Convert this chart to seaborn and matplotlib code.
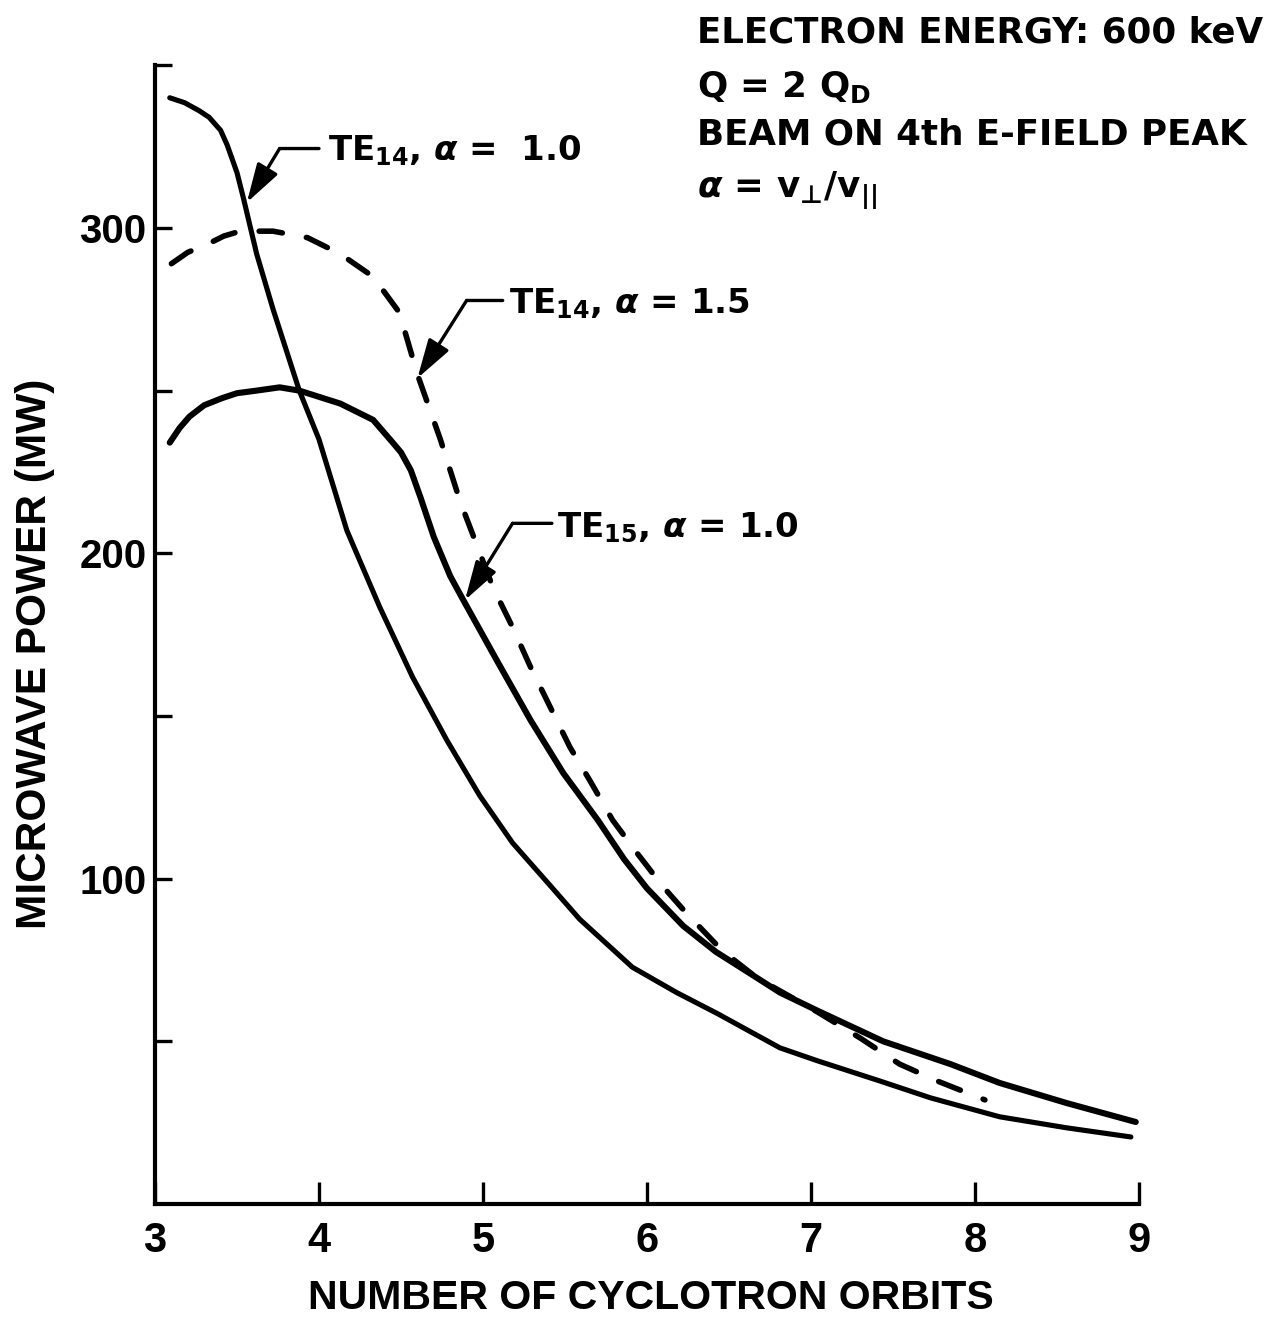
import numpy as np
import pandas as pd
import matplotlib
matplotlib.use("Agg")
import matplotlib.pyplot as plt
import seaborn as sns

# ---------------- data ----------------
te14_a10_x = [3.09, 3.18, 3.27, 3.33, 3.40, 3.44, 3.50, 3.54, 3.62, 3.72, 3.88, 4.00,
              4.17, 4.37, 4.57, 4.78, 4.98, 5.18, 5.39, 5.59, 5.91, 6.18, 6.43, 6.81,
              7.04, 7.42, 7.73, 8.15, 8.56, 8.95]
te14_a10_y = [340, 338.5, 336, 334, 330, 325.5, 317, 309, 292, 275, 250, 235,
              207, 183.5, 162, 142.5, 125.5, 111, 99, 87.5, 72.8, 65, 58.5, 48,
              44, 37.8, 32.6, 26.8, 23.4, 20.6]

te15_a10_x = [3.09, 3.15, 3.21, 3.30, 3.41, 3.50, 3.62, 3.76, 3.88, 4.13, 4.33, 4.45,
              4.50, 4.56, 4.62, 4.70, 4.80, 4.88, 5.085, 5.29, 5.49, 5.70, 5.86, 6.00,
              6.22, 6.42, 6.63, 6.81, 7.04, 7.44, 7.85, 8.15, 8.56, 8.98]
te15_a10_y = [234, 238.5, 242, 245.5, 247.7, 249.2, 250, 251, 250, 246, 241, 234,
              231, 225.5, 217, 205, 193, 185.6, 167, 148.7, 132.4, 118, 106, 97,
              85.5, 77.5, 70.8, 65, 59.4, 50, 43, 37.2, 31, 25.2]

te14_a15_x = [3.10, 3.20, 3.32, 3.42, 3.52, 3.72, 3.93, 4.13, 4.33, 4.49, 4.60, 4.74,
              4.86, 5.06, 5.18, 5.29, 5.41, 5.53, 5.65, 5.79, 5.94, 6.10, 6.24, 6.46,
              6.67, 7.04, 7.30, 7.54, 7.77, 7.97, 8.06]
te14_a15_y = [289, 292.5, 295, 297.5, 299, 299, 297, 292, 285, 274, 255, 235,
              216, 189.6, 177.3, 165, 152.7, 140.4, 130.3, 118, 107.8, 97.4, 89.4, 77.8,
              69.5, 59, 51, 43, 37.8, 33.8, 32]

x_ticks = [3, 4, 5, 6, 7, 8, 9]
y_ticks = [50, 100, 150, 200, 250, 300, 350]
y_tick_labels = ["", "100", "", "200", "", "300", ""]

curve_labels = ["TE$_{14}$, $\\mathit{\\alpha}$ =  1.0",
                "TE$_{14}$, $\\mathit{\\alpha}$ = 1.5",
                "TE$_{15}$, $\\mathit{\\alpha}$ = 1.0"]
# text anchor (x, baseline y), leader start/corner, arrow tip -- in data coordinates
label_text_pos = [(4.055, 320.7), (5.16, 273.7), (5.45, 204.9)]
leader_start = [(4.00, 324.4), (5.12, 277.7), (5.42, 209.2)]
leader_corner = [(3.76, 324.4), (4.90, 277.7), (5.18, 209.2)]
arrow_tip = [(3.56, 307.8), (4.60, 253.8), (4.89, 185.6)]

info_lines = ["ELECTRON ENERGY: 600 keV",
              "Q = 2 Q$_{D}$",
              "BEAM ON 4th E-FIELD PEAK",
              "$\\mathit{\\alpha}$ = v$_{⊥}$/v$_{||}$"]

# ---------------- style ----------------
sns.set_theme(style="ticks")
plt.rcParams['font.family'] = ['Liberation Sans', 'DejaVu Sans']
plt.rcParams['font.weight'] = 'bold'
plt.rcParams['text.color'] = 'black'
plt.rcParams['axes.labelcolor'] = 'black'
plt.rcParams['xtick.color'] = 'black'
plt.rcParams['ytick.color'] = 'black'
plt.rcParams['mathtext.fontset'] = 'custom'
plt.rcParams['mathtext.rm'] = 'DejaVu Sans:bold'
plt.rcParams['mathtext.bf'] = 'DejaVu Sans:bold'
plt.rcParams['mathtext.it'] = 'DejaVu Sans:italic'
plt.rcParams['mathtext.default'] = 'rm'

LABEL_FONT = ['DejaVu Sans']

fig = plt.figure(figsize=(12.83, 13.18), dpi=100)
ax = fig.add_axes([0.1208, 0.0865, 0.767, 0.8640])

df_a = pd.DataFrame({"orbits": te14_a10_x, "power": te14_a10_y})
df_c = pd.DataFrame({"orbits": te15_a10_x, "power": te15_a10_y})
df_b = pd.DataFrame({"orbits": te14_a15_x, "power": te14_a15_y})

sns.lineplot(data=df_a, x="orbits", y="power", ax=ax, color="black", lw=3.7,
             sort=False, estimator=None)
sns.lineplot(data=df_c, x="orbits", y="power", ax=ax, color="black", lw=4.4,
             sort=False, estimator=None)
sns.lineplot(data=df_b, x="orbits", y="power", ax=ax, color="black", lw=4.0,
             sort=False, estimator=None)
for ln in ax.lines:
    ln.set_solid_capstyle("round")
    ln.set_solid_joinstyle("round")
dl = ax.lines[-1]
dl.set_dashes([4.2, 4.4])
dl.set_dash_capstyle("round")

ax.set_xlim(3, 9)
ax.set_ylim(0, 350)
ax.set_xticks(x_ticks)
ax.set_xticklabels([str(t) for t in x_ticks])
ax.set_yticks(y_ticks)
ax.set_yticklabels(y_tick_labels)

for s in ["top", "right"]:
    ax.spines[s].set_visible(False)
for s in ["left", "bottom"]:
    ax.spines[s].set_linewidth(3.0)
    ax.spines[s].set_color("black")

ax.tick_params(axis="x", direction="in", length=16, width=2.4, pad=12,
               labelsize=30, colors="black")
ax.tick_params(axis="y", direction="in", length=12, width=2.4, pad=6,
               labelsize=29, colors="black")
for lab in ax.get_xticklabels() + ax.get_yticklabels():
    lab.set_fontweight("bold")

ax.set_xlabel("NUMBER OF CYCLOTRON ORBITS", fontsize=29.5, fontweight="bold")
ax.set_ylabel("MICROWAVE POWER (MW)", fontsize=30.5, fontweight="bold")
ax.xaxis.set_label_coords(0.504, -0.066)
ax.yaxis.set_label_coords(-0.102, 0.483)

# curve labels with leader arrows
for lab, tp, ls, lc, tip in zip(curve_labels, label_text_pos, leader_start,
                                leader_corner, arrow_tip):
    ax.text(tp[0], tp[1], lab, fontsize=24.5, fontweight="bold", ha="left",
            va="baseline", family=LABEL_FONT)
    ax.annotate("", xy=lc, xytext=ls,
                arrowprops=dict(arrowstyle="-", color="black", lw=2.4,
                                shrinkA=0, shrinkB=0))
    ax.annotate("", xy=tip, xytext=lc,
                arrowprops=dict(arrowstyle="-|>,head_length=1.2,head_width=0.36",
                                color="black", lw=2.4, mutation_scale=20,
                                shrinkA=0, shrinkB=0))

# info block top right
info_baselines = [0.9674, 0.9264, 0.8900, 0.8505]
for txt, yb in zip(info_lines, info_baselines):
    fig.text(0.543, yb, txt, fontsize=25.7, fontweight="bold", ha="left",
             va="baseline", family=LABEL_FONT)

fig.savefig("out.png", dpi=100)
